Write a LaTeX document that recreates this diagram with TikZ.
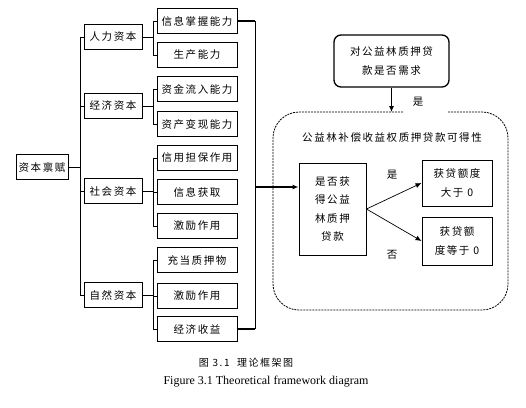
\documentclass[tikz,border=0pt]{standalone}
\usepackage{fontspec}
\setmainfont{Liberation Serif}
\newfontfamily\cjk[LetterSpace=15]{Noto Sans CJK SC}
\usetikzlibrary{arrows.meta}

\begin{document}
\begin{tikzpicture}[x=1pt,y=-1pt,
    zh/.style={font=\cjk\fontsize{10.5}{18.5}\selectfont,align=center},
    box/.style={zh,draw,line width=0.9pt,minimum height=25pt,inner sep=1pt},
    capA/.style={box,minimum width=58pt},
    capB/.style={box,minimum width=80pt},
    link/.style={line width=0.8pt},
    arr/.style={-{Latex[length=6pt,width=5pt]}}]
    \useasboundingbox (0,0) rectangle (526,407);

    \begin{scope}
      \node[box,minimum width=52pt] (root) at (42,167) {资本禀赋};
      \node[capA] (human) at (113,37) {人力资本};
      \node[capA] (econ) at (113,106) {经济资本};
      \node[capA] (social) at (113,191) {社会资本};
      \node[capA] (nature) at (113,295) {自然资本};
      \draw[link](root.east)--++(13,0);
      \draw[link](human.west)--++(-3,0)|-(nature.west);
      \draw[link](econ.west)--++(-3,0);
      \draw[link](social.west)--++(-3,0);
    \end{scope}

    \begin{scope}
      \node[capB] (hA) at (197,21) {信息掌握能力};
      \node[capB] (hB) at (197,55) {生产能力};
      \node[capB] (eA) at (197,89) {资金流入能力};
      \node[capB] (eB) at (197,124) {资产变现能力};
      \node[capB] (sA) at (197,158) {信用担保作用};
      \node[capB] (sB) at (197,192) {信息获取};
      \node[capB] (sC) at (197,226) {激励作用};
      \node[capB] (nA) at (197,260) {充当质押物};
      \node[capB] (nB) at (197,296) {激励作用};
      \node[capB] (nC) at (197,329) {经济收益};
      \draw[link](human.east)--++(12,0);
      \draw[link](hA.west)--++(-3,0)|-(hB.west);
      \draw[link](econ.east)--++(12,0);
      \draw[link](eA.west)--++(-3,0)|-(eB.west);
      \draw[link](social.east)--++(12,0);
      \draw[link](sA.west)--++(-3,0)|-(sC.west);
      \draw[link](sB.west)--++(-3,0);
      \draw[link](nature.east)--++(12,0);
      \draw[link](nA.west)--++(-3,0)|-(nC.west);
      \draw[link](nB.west)--++(-3,0);
    \end{scope}

    \coordinate(bus) at (255,187);
    \draw[line width=1.8pt](hA.east)--++(18,0);
    \draw[line width=1.5pt](nC.east)--++(18,0);
    \draw[line width=1pt](hA.east -| bus)--(nC.east -| bus);

    \begin{scope}
      \node[zh,draw,line width=1.3pt,rounded corners=7pt,minimum width=115pt,minimum height=52pt] (need) at (391.5,61) {对公益林质押贷\\款是否需求};
      \coordinate(gapL) at (403,112);
      \coordinate(gapR) at (448,112);
      \draw[line width=0.8pt,dashed,dash pattern=on 2pt off 1pt,rounded corners=26pt](gapL)--(273,112)--(273,310)--(508,310)--(508,112)--(gapR);
      \draw[line width=1pt,arr](need.south)--(need.south |- gapL);
      \node[zh] (yesA) at (418,102) {是};
      \node[zh] (title) at (392,138) {公益林补偿收益权质押贷款可得性};
      \node[box,minimum width=67pt,minimum height=92pt] (judge) at (332.5,209) {是否获\\得公益\\林质押\\贷款};
      \node[box,minimum width=70pt,minimum height=46pt] (more) at (457,183) {获贷额度\\大于 0};
      \node[box,minimum width=70pt,minimum height=48pt] (zero) at (457,241) {获贷额\\度等于 0};
      \draw[line width=1.3pt,arr](bus)--(bus -| judge.west);
      \draw[line width=0.7pt,arr](judge.east)--(more.west);
      \draw[line width=0.7pt,arr](judge.east)--(zero.west);
      \node[zh] (yesB) at (392,175) {是};
      \node[zh] (noB) at (392,255) {否};
    \end{scope}

    \node[zh,font=\cjk\fontsize{10}{12}\selectfont] (capZh) at (246,363) {图 3.1\ \ 理论框架图};
    \node[font=\fontsize{12}{14}\selectfont] (capEn) at (266,382) {Figure 3.1 Theoretical framework diagram};
  \end{tikzpicture}
\end{document}
